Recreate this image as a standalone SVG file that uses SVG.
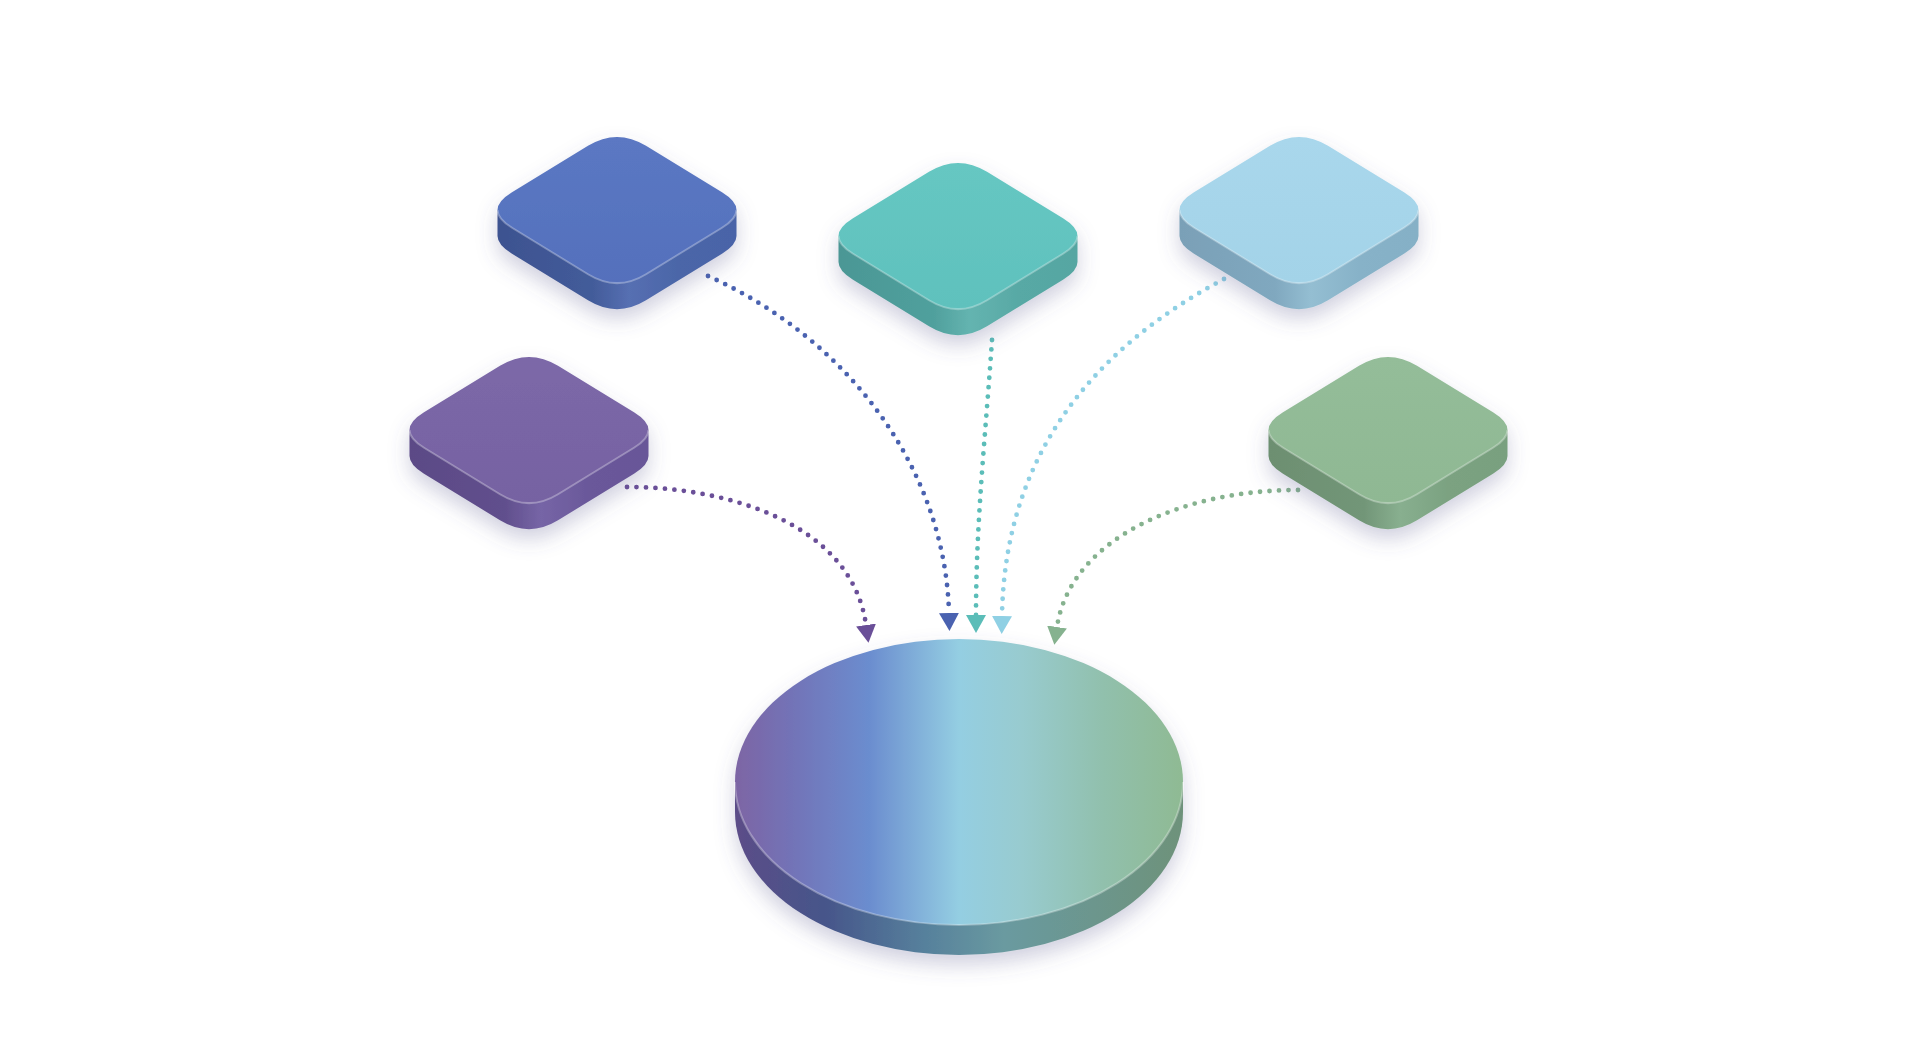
<svg xmlns="http://www.w3.org/2000/svg" width="1920" height="1047" viewBox="0 0 1920 1047">
<defs>
<filter id="shadow" x="-30%" y="-30%" width="160%" height="180%">
<feDropShadow dx="0" dy="10" stdDeviation="10" flood-color="#5a5a8c" flood-opacity="0.28"/>
</filter>
<path id="face" d="M -29,-64.25 Q 0,-82 29,-64.25 L 105,-17.75 Q 134,0 105,17.75 L 29,64.25 Q 0,82 -29,64.25 L -105,17.75 Q -134,0 -105,-17.75 Z"/>
<path id="side" d="M -119.5,0 L -119.5,26 Q -119.5,34.875 -105,43.75 L -29,90.25 Q 0,108 29,90.25 L 105,43.75 Q 119.5,34.875 119.5,26 L 119.5,0 Z"/>
<path id="bevel" d="M -119.5,0 Q -119.5,8.875 -105,17.75 L -29,64.25 Q 0,82 29,64.25 L 105,17.75 Q 119.5,8.875 119.5,0"/>
<linearGradient id="tBlue" x1="0" y1="0" x2="0" y2="1"><stop offset="0" stop-color="#5b78c3"/><stop offset="1" stop-color="#5470bc"/></linearGradient>
<linearGradient id="sBlue" x1="0" y1="0" x2="1" y2="0"><stop offset="0" stop-color="#3d5290"/><stop offset="0.4" stop-color="#435c9a"/><stop offset="0.55" stop-color="#566fb2"/><stop offset="0.75" stop-color="#4b66a8"/><stop offset="1" stop-color="#4a64a8"/></linearGradient>
<linearGradient id="tTeal" x1="0" y1="0" x2="0" y2="1"><stop offset="0" stop-color="#66c7c2"/><stop offset="1" stop-color="#5fc1bd"/></linearGradient>
<linearGradient id="sTeal" x1="0" y1="0" x2="1" y2="0"><stop offset="0" stop-color="#4b9795"/><stop offset="0.4" stop-color="#50a09d"/><stop offset="0.55" stop-color="#64b4b0"/><stop offset="0.75" stop-color="#58a9a5"/><stop offset="1" stop-color="#56a6a2"/></linearGradient>
<linearGradient id="tLight" x1="0" y1="0" x2="0" y2="1"><stop offset="0" stop-color="#a9d7ec"/><stop offset="1" stop-color="#a3d3e8"/></linearGradient>
<linearGradient id="sLight" x1="0" y1="0" x2="1" y2="0"><stop offset="0" stop-color="#7aa0b7"/><stop offset="0.4" stop-color="#80a8bf"/><stop offset="0.55" stop-color="#94bed2"/><stop offset="0.75" stop-color="#87b2c8"/><stop offset="1" stop-color="#85b0c6"/></linearGradient>
<linearGradient id="tPurple" x1="0" y1="0" x2="0" y2="1"><stop offset="0" stop-color="#7c68a8"/><stop offset="1" stop-color="#7662a2"/></linearGradient>
<linearGradient id="sPurple" x1="0" y1="0" x2="1" y2="0"><stop offset="0" stop-color="#5b4a86"/><stop offset="0.4" stop-color="#614f8d"/><stop offset="0.55" stop-color="#7665a6"/><stop offset="0.75" stop-color="#6a589a"/><stop offset="1" stop-color="#685698"/></linearGradient>
<linearGradient id="tGreen" x1="0" y1="0" x2="0" y2="1"><stop offset="0" stop-color="#94bd99"/><stop offset="1" stop-color="#8fb893"/></linearGradient>
<linearGradient id="sGreen" x1="0" y1="0" x2="1" y2="0"><stop offset="0" stop-color="#6d8f71"/><stop offset="0.4" stop-color="#729678"/><stop offset="0.55" stop-color="#88af8f"/><stop offset="0.75" stop-color="#7ba281"/><stop offset="1" stop-color="#79a07f"/></linearGradient>
<linearGradient id="tDisk" x1="735" y1="0" x2="1183" y2="0" gradientUnits="userSpaceOnUse">
<stop offset="0" stop-color="#7d65a4"/><stop offset="0.12" stop-color="#7372b6"/><stop offset="0.3" stop-color="#6b8dcf"/><stop offset="0.5" stop-color="#94cee2"/><stop offset="0.64" stop-color="#98cbcf"/><stop offset="0.82" stop-color="#91c0ad"/><stop offset="1" stop-color="#8fba93"/></linearGradient>
<linearGradient id="sDisk" x1="735" y1="0" x2="1183" y2="0" gradientUnits="userSpaceOnUse">
<stop offset="0" stop-color="#5c4d88"/><stop offset="0.2" stop-color="#46558a"/><stop offset="0.42" stop-color="#56809c"/><stop offset="0.6" stop-color="#6a9aa0"/><stop offset="1" stop-color="#6e927a"/></linearGradient>
<marker id="aBlue" markerUnits="userSpaceOnUse" viewBox="0 -11 19 22" refX="0" refY="0" markerWidth="19" markerHeight="22" orient="auto"><path d="M0,-10 L18,0 L0,10 Z" fill="#4a62b0"/></marker>
<marker id="aTeal" markerUnits="userSpaceOnUse" viewBox="0 -11 19 22" refX="0" refY="0" markerWidth="19" markerHeight="22" orient="auto"><path d="M0,-10 L18,0 L0,10 Z" fill="#5bbdb8"/></marker>
<marker id="aLight" markerUnits="userSpaceOnUse" viewBox="0 -11 19 22" refX="0" refY="0" markerWidth="19" markerHeight="22" orient="auto"><path d="M0,-10 L18,0 L0,10 Z" fill="#8fd0e4"/></marker>
<marker id="aPurple" markerUnits="userSpaceOnUse" viewBox="0 -11 19 22" refX="0" refY="0" markerWidth="19" markerHeight="22" orient="auto"><path d="M0,-10 L18,0 L0,10 Z" fill="#6a4f98"/></marker>
<marker id="aGreen" markerUnits="userSpaceOnUse" viewBox="0 -11 19 22" refX="0" refY="0" markerWidth="19" markerHeight="22" orient="auto"><path d="M0,-10 L18,0 L0,10 Z" fill="#86b28f"/></marker>
</defs>
<style>
.dot{fill:none;stroke-width:4.8;stroke-linecap:round;stroke-dasharray:0 9.5}
.bev{fill:none;stroke:#ffffff;stroke-opacity:0.3;stroke-width:2}
</style>
<rect width="1920" height="1047" fill="#ffffff"/>
<g id="connectors">
<path class="dot" stroke="#4a62b0" d="M 708,276 C 850,340 945,470 949,613" marker-end="url(#aBlue)"/>
<path class="dot" stroke="#5bbdb8" d="M 992,340 C 986,430 976,520 976,615" marker-end="url(#aTeal)"/>
<path class="dot" stroke="#8fd0e4" d="M 1224,279 C 1110,340 1005,440 1002,616" marker-end="url(#aLight)"/>
<path class="dot" stroke="#6a4f98" d="M 627,487 C 730,487 852,525 866,625" marker-end="url(#aPurple)"/>
<path class="dot" stroke="#86b28f" d="M 1298,490 C 1180,490 1070,540 1057,627" marker-end="url(#aGreen)"/>
</g>
<g id="node-blue" transform="translate(617,210)" filter="url(#shadow)">
<use href="#side" fill="url(#sBlue)"/><use href="#face" fill="url(#tBlue)"/><use href="#bevel" class="bev"/>
</g>
<g id="node-teal" transform="translate(958,236)" filter="url(#shadow)">
<use href="#side" fill="url(#sTeal)"/><use href="#face" fill="url(#tTeal)"/><use href="#bevel" class="bev"/>
</g>
<g id="node-lightblue" transform="translate(1299,210)" filter="url(#shadow)">
<use href="#side" fill="url(#sLight)"/><use href="#face" fill="url(#tLight)"/><use href="#bevel" class="bev"/>
</g>
<g id="node-purple" transform="translate(529,430)" filter="url(#shadow)">
<use href="#side" fill="url(#sPurple)"/><use href="#face" fill="url(#tPurple)"/><use href="#bevel" class="bev"/>
</g>
<g id="node-green" transform="translate(1388,430)" filter="url(#shadow)">
<use href="#side" fill="url(#sGreen)"/><use href="#face" fill="url(#tGreen)"/><use href="#bevel" class="bev"/>
</g>
<g id="node-disk" filter="url(#shadow)">
<path d="M 735,782 L 735,812 A 224 143 0 0 0 1183,812 L 1183,782 Z" fill="url(#sDisk)"/>
<ellipse cx="959" cy="782" rx="224" ry="143" fill="url(#tDisk)"/>
<path d="M 735,782 A 224 143 0 0 0 1183,782" class="bev"/>
</g>
</svg>
